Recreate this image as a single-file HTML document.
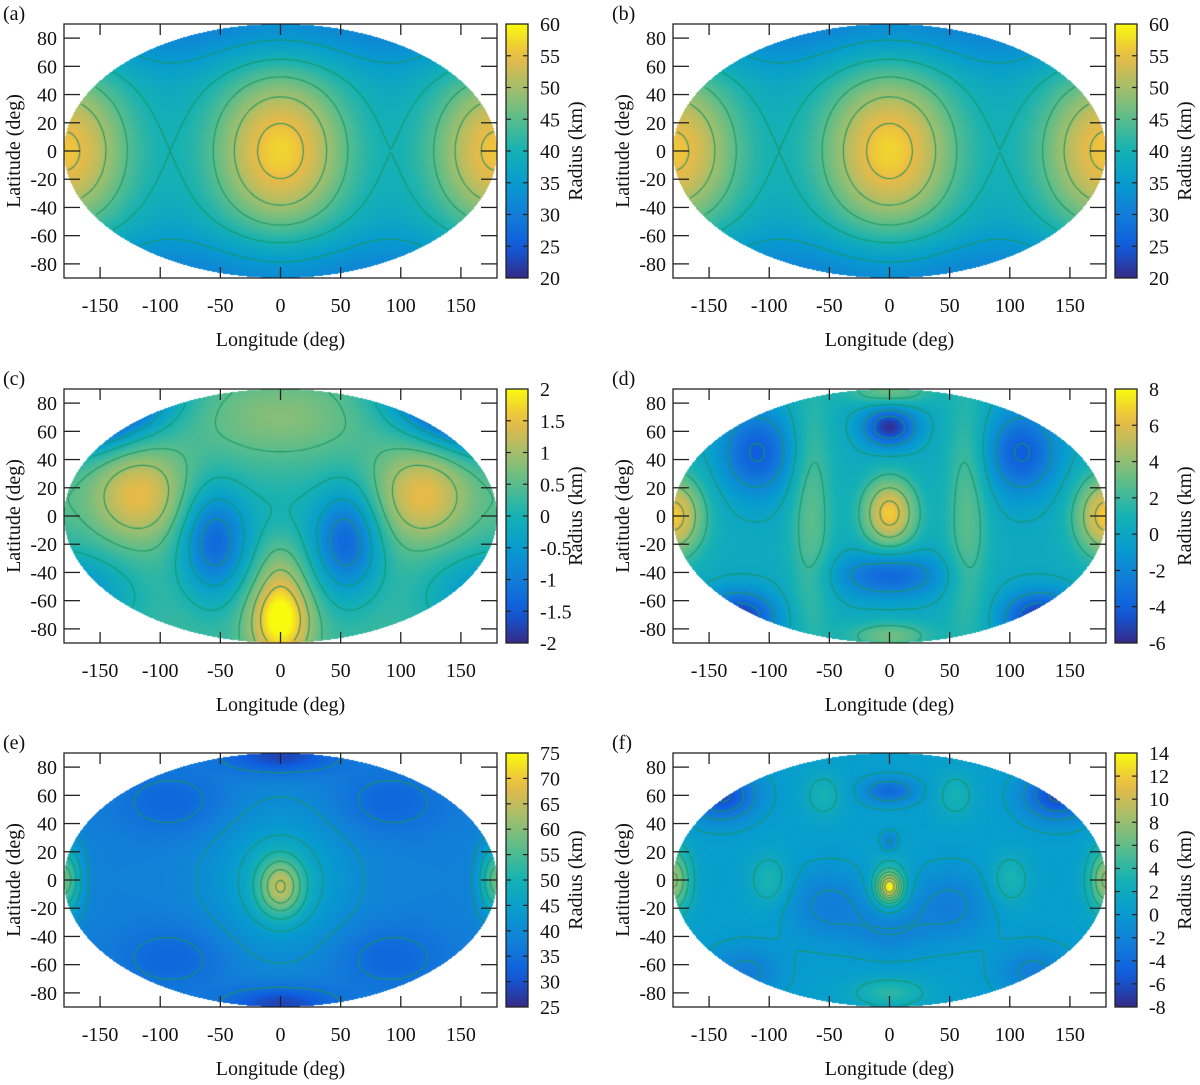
<!DOCTYPE html>
<html><head><meta charset="utf-8">
<style>
html,body{margin:0;padding:0;background:#fff;}
#root{position:relative;width:1200px;height:1085px;overflow:hidden;font-family:"Liberation Serif",serif;}
.panel{position:absolute;width:600px;height:362px;}
.panel canvas{position:absolute;left:64px;top:24px;}
.panel svg{position:absolute;left:0;top:0;}
text{font-family:"Liberation Serif",serif;fill:#111;}
</style></head>
<body>
<div id="root"></div>
<script>
// ---------- data ----------
const panelLabels = ["(a)","(b)","(c)","(d)","(e)","(f)"];
const xTicks = [-150,-100,-50,0,50,100,150];
const yTicks = [80,60,40,20,0,-20,-40,-60,-80];
const cbMin = [20,20,-2,-6,25,-8];
const cbMax = [60,60,2,8,75,14];
const cbTicksA = [20,25,30,35,40,45,50,55,60];
const cbTicksC = [-2,-1.5,-1,-0.5,0,0.5,1,1.5,2];
const cbTicksD = [-6,-4,-2,0,2,4,6,8];
const cbTicksE = [25,30,35,40,45,50,55,60,65,70,75];
const cbTicksF = [-8,-6,-4,-2,0,2,4,6,8,10,12,14];
const cbTicks = [cbTicksA,cbTicksA,cbTicksC,cbTicksD,cbTicksE,cbTicksF];
const levelsA = [35,40,45,50,55];
const levelsC = [-1.5,-1,-0.5,0,0.5,1,1.5];
const levelsD = [-4,-2,0,2,4,6];
const levelsE = [35,40,45,50,55,60,65,70];
const levelsF = [-6,-4,-2,0,2,4,6,8,10,12];
const levels = [levelsA,levelsA,levelsC,levelsD,levelsE,levelsF];
// field model: base + gaussian bumps [lon, lat, amplitude, widthLon, widthLat]
const bases = [36,36,0.3,0.3,38,0.5];
const bumpsA = [[0,0,21,60,62],[180,0,20,58,62],[0,90,-6,400,30],[0,-90,-6,400,30]];
const bumpsB = [[0,0,21,60,62],[180,0,20,58,62],[0,90,-6,400,30],[0,-90,-6,400,30]];
const bumpsC = [[-118,15,1.2,40,34],[118,15,1.2,40,34],[-55,-18,-1.6,28,38],[55,-18,-1.6,28,38],
  [0,-75,1.8,25,28],[0,70,0.5,70,28],[-165,90,-3.2,60,32],[165,90,-3.2,60,32],[0,0,-0.3,35,30],
  [-160,-55,-0.6,45,30],[160,-55,-0.6,45,30],[0,-40,0.5,20,30]];
const bumpsD = [[0,2,6.5,22,24],[0,63,-6,22,14],[0,-42,-4,45,16],[-110,45,-4.5,30,30],[110,45,-4.5,30,30],
  [-125,-72,-6,30,18],[125,-72,-6,30,18],[180,0,6.5,25,28],[-65,0,2.5,18,90],[65,0,2.5,18,90],
  [0,88,3,35,10],[0,-85,3,35,10]];
const bumpsE = [[0,-5,18,18,20],[0,0,10,55,48],[180,0,20,14,24],[0,88,-10,45,12],[0,-88,-10,45,12],
  [-90,55,-5,45,22],[90,55,-5,45,22],[-90,-55,-5,45,22],[90,-55,-5,45,22]];
const bumpsF = [[0,-5,11,10,10],[0,-5,3,16,22],[0,63,-4.5,22,9],[0,27,-3,7,7],[-140,60,-7,28,17],[140,60,-7,28,17],
  [180,0,8,14,22],[-55,60,2.5,16,16],[55,60,2.5,16,16],[-100,0,3,16,18],[100,0,3,16,18],
  [-50,-18,-3,35,25],[50,-18,-3,35,25],[0,-35,-2.5,30,18],[0,-80,3.5,30,10],[-120,-65,-3,30,18],[120,-65,-3,30,18]];
const bumps = [bumpsA,bumpsB,bumpsC,bumpsD,bumpsE,bumpsF];

// ---------- helpers ----------
const W=433,H=254,FX=64,FY=24;
const parula=[[53,42,135],[15,92,221],[18,125,216],[7,156,207],[21,177,180],[89,189,140],[165,190,107],[235,186,70],[249,251,14]];
function cmap(t){t=Math.max(0,Math.min(1,t));const s=t*(parula.length-1);const i=Math.min(parula.length-2,Math.floor(s));const f=s-i;
  const a=parula[i],b=parula[i+1];return [a[0]+(b[0]-a[0])*f,a[1]+(b[1]-a[1])*f,a[2]+(b[2]-a[2])*f];}
function field(p,lon,lat){let v=bases[p];
  for(const b of bumps[p]){let dx=Math.abs(lon-b[0]);if(dx>180)dx=360-dx;const dy=lat-b[1];
    v+=b[2]*Math.exp(-(dx*dx)/(b[3]*b[3])-(dy*dy)/(b[4]*b[4]));}return v;}
function inv(px,py){const u=(px-W/2)/(W/2),w=(py-H/2)/(H/2);
  if(u*u+w*w>1)return null;return [u*180,-w*90];}
const xS=v=>FX+(v+180)/360*W, yS=v=>FY+(90-v)/180*H;
const NS="http://www.w3.org/2000/svg";
function mk(tag,attrs,parent){const e=document.createElementNS(NS,tag);for(const k in attrs)e.setAttribute(k,attrs[k]);parent.appendChild(e);return e;}

const root=document.getElementById('root');
for(let p=0;p<6;p++){
  const col=p%2,row=Math.floor(p/2);
  const div=document.createElement('div');div.className='panel';
  div.style.left=(col*609)+'px';div.style.top=(row*364.5)+'px';
  
  
  root.appendChild(div);
  const cv=document.createElement('canvas');cv.width=W;cv.height=H;
  
  
  div.appendChild(cv);
  const ctx=cv.getContext('2d');const img=ctx.createImageData(W,H);
  const mn=cbMin[p],mx=cbMax[p];
  for(let y=0;y<H;y++)for(let x=0;x<W;x++){const ll=inv(x+0.5,y+0.5);const i=(y*W+x)*4;
    if(!ll){img.data[i+3]=0;continue;}const v=field(p,ll[0],ll[1]);const c=cmap((v-mn)/(mx-mn));
    img.data[i]=c[0];img.data[i+1]=c[1];img.data[i+2]=c[2];img.data[i+3]=255;}
  ctx.putImageData(img,0,0);
  const st=2,gw=Math.ceil(W/st)+1,gh=Math.ceil(H/st)+1;const g=new Float64Array(gw*gh);
  for(let j=0;j<gh;j++)for(let i=0;i<gw;i++){const ll=inv(i*st,j*st);g[j*gw+i]=ll?field(p,ll[0],ll[1]):NaN;}
  ctx.strokeStyle='rgba(25,150,100,0.95)';ctx.lineWidth=1.1;ctx.beginPath();
  for(const L of levels[p]){for(let j=0;j<gh-1;j++)for(let i=0;i<gw-1;i++){
    const a=g[j*gw+i],b=g[j*gw+i+1],c=g[(j+1)*gw+i+1],d=g[(j+1)*gw+i];
    if(isNaN(a)||isNaN(b)||isNaN(c)||isNaN(d))continue;
    const pts=[];const x0=i*st,y0=j*st;
    if((a<L)!==(b<L))pts.push([x0+st*(L-a)/(b-a),y0]);
    if((b<L)!==(c<L))pts.push([x0+st,y0+st*(L-b)/(c-b)]);
    if((d<L)!==(c<L))pts.push([x0+st*(L-d)/(c-d),y0+st]);
    if((a<L)!==(d<L))pts.push([x0,y0+st*(L-a)/(d-a)]);
    if(pts.length>=2){ctx.moveTo(pts[0][0],pts[0][1]);ctx.lineTo(pts[1][0],pts[1][1]);}
    if(pts.length===4){ctx.moveTo(pts[2][0],pts[2][1]);ctx.lineTo(pts[3][0],pts[3][1]);}
  }}
  ctx.stroke();
  const svg=document.createElementNS(NS,'svg');svg.setAttribute('width',600);svg.setAttribute('height',362);
  div.appendChild(svg);
  const lab=mk('text',{x:3,y:20,'font-size':20},svg);lab.textContent=panelLabels[p];
  
  
  const fr=mk('rect',{x:FX,y:FY,width:W,height:H,fill:'none',stroke:'#222','stroke-width':1.3},svg);
  
  
  for(const t of xTicks){const x=xS(t);
    mk('line',{x1:x,y1:FY+H,x2:x,y2:FY+H-11,stroke:'#222','stroke-width':1.3},svg);
    mk('line',{x1:x,y1:FY,x2:x,y2:FY+11,stroke:'#222','stroke-width':1.3},svg);
    const tx=mk('text',{x:x,y:FY+H+34,'font-size':20,'text-anchor':'middle'},svg);tx.textContent=t;
    
    }
  for(const t of yTicks){const y=yS(t);
    mk('line',{x1:FX,y1:y,x2:FX+16,y2:y,stroke:'#222','stroke-width':1.3},svg);
    mk('line',{x1:FX+W,y1:y,x2:FX+W-16,y2:y,stroke:'#222','stroke-width':1.3},svg);
    const ty=mk('text',{x:FX-7,y:y+7,'font-size':20,'text-anchor':'end'},svg);ty.textContent=t;
    
    }
  const xt=mk('text',{x:FX+W/2,y:FY+H+68,'font-size':20,'text-anchor':'middle'},svg);xt.textContent='Longitude (deg)';
  
  
  const yt=mk('text',{x:0,y:0,'font-size':20,'text-anchor':'middle',transform:`translate(20,${FY+H/2}) rotate(-90)`},svg);yt.textContent='Latitude (deg)';
  
  
  const defs=mk('defs',{},svg);const gid='cbg'+p;
  const lg=mk('linearGradient',{id:gid,x1:0,y1:1,x2:0,y2:0},defs);
  for(let k=0;k<=20;k++){const c=cmap(k/20);mk('stop',{offset:k/20,'stop-color':`rgb(${c.map(Math.round).join(',')})`},lg);}
  const CX=506,CW=22;
  const cb=mk('rect',{x:CX,y:FY,width:CW,height:H,fill:`url(#${gid})`,stroke:'#222','stroke-width':1.3},svg);
  
  
  for(const t of cbTicks[p]){const y=FY+H-(t-mn)/(mx-mn)*H;
    if(t!==mn&&t!==mx){mk('line',{x1:CX,y1:y,x2:CX+5,y2:y,stroke:'#222','stroke-width':1.2},svg);
      mk('line',{x1:CX+CW,y1:y,x2:CX+CW-5,y2:y,stroke:'#222','stroke-width':1.2},svg);}
    const ct=mk('text',{x:CX+CW+12,y:y+7,'font-size':20},svg);ct.textContent=t;
    
    }
  const ctl=mk('text',{x:0,y:0,'font-size':20,'text-anchor':'middle',transform:`translate(582,${FY+H/2}) rotate(-90)`},svg);ctl.textContent='Radius (km)';
  
  
}
</script>
</body></html>
